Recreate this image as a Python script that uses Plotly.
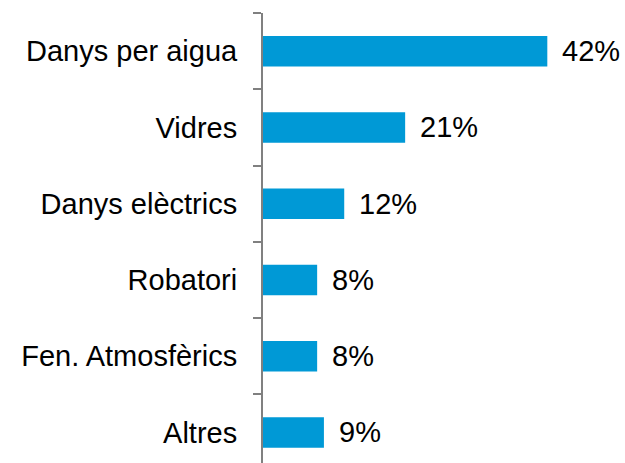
import plotly.graph_objects as go

categories = ["Danys per aigua", "Vidres", "Danys elèctrics", "Robatori",
              "Fen. Atmosfèrics", "Altres"]
values = [42, 21, 12, 8, 8, 9]
value_labels = [f"{v}%" for v in values]

bar_color = "#0099D6"
axis_color = "#808080"
font_family = "Liberation Sans, Arial, sans-serif"
font_size = 29

fig = go.Figure(
    go.Bar(
        x=values,
        y=categories,
        orientation="h",
        marker=dict(color=bar_color, line=dict(width=0)),
        width=0.4,
        hoverinfo="skip",
    )
)

# Value labels just to the right of each bar end
for cat, v, lbl in zip(categories, values, value_labels):
    fig.add_annotation(
        x=v, y=cat, text=lbl, showarrow=False,
        xanchor="left", yanchor="middle", xshift=13,
        font=dict(family=font_family, size=font_size, color="#000000"),
    )

fig.update_layout(
    width=625, height=463,
    margin=dict(l=263, r=10, t=13, b=0),
    paper_bgcolor="white", plot_bgcolor="white",
    showlegend=False,
    xaxis=dict(range=[0, 52], visible=False, fixedrange=True),
    yaxis=dict(
        type="category",
        categoryorder="array", categoryarray=categories,
        range=[5.4, -0.5],
        showline=True, linecolor=axis_color, linewidth=2,
        ticks="outside", tickson="boundaries", ticklen=8,
        tickwidth=2, tickcolor=axis_color,
        showgrid=False, zeroline=False,
        tickfont=dict(family=font_family, size=font_size, color="#000000"),
        ticklabelstandoff=18,
    ),
)

fig.write_html("out.html")
